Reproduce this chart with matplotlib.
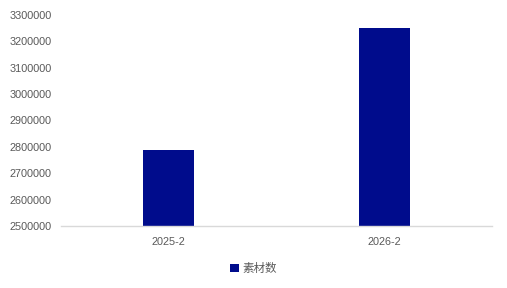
import matplotlib
matplotlib.use('Agg')
import matplotlib.pyplot as plt
from matplotlib.patches import Patch

# ── Data ──────────────────────────────────────────────────────────────────────
categories = ['2025-2', '2026-2']
material_counts = [2788000, 3250000]
series_name = '素材数'
y_ticks = [2500000, 2600000, 2700000, 2800000, 2900000,
           3000000, 3100000, 3200000, 3300000]

BAR_COLOR = '#000C8C'
TEXT_COLOR = '#595959'
AXIS_COLOR = '#D9D9D9'

plt.rcParams['font.family'] = ['Liberation Sans', 'Noto Sans CJK SC', 'DejaVu Sans']

fig = plt.figure(figsize=(5.07, 2.88), dpi=100)
ax = fig.add_axes([0.1203, 0.2153, 0.8501, 0.7327])

x = list(range(len(categories)))
ax.bar(x, material_counts, width=0.235, color=BAR_COLOR, zorder=2)

ax.set_xlim(-0.5, len(categories) - 0.5)
ax.set_ylim(y_ticks[0], y_ticks[-1])
ax.set_yticks(y_ticks)
ax.set_yticklabels([str(v) for v in y_ticks])
ax.set_xticks(x)
ax.set_xticklabels(categories)

for side in ['top', 'right', 'left']:
    ax.spines[side].set_visible(False)
ax.spines['bottom'].set_color(AXIS_COLOR)
ax.spines['bottom'].set_linewidth(1.0)

ax.tick_params(axis='both', length=0, colors=TEXT_COLOR, labelsize=7.8)
ax.tick_params(axis='y', pad=6.5)
ax.tick_params(axis='x', pad=8)

handles = [Patch(facecolor=BAR_COLOR, edgecolor='none', label=series_name)]
leg = fig.legend(handles=handles, loc='center', bbox_to_anchor=(0.5, 0.066),
                 frameon=False, handlelength=0.7, handleheight=0.7,
                 handletextpad=0.3,
                 prop={'family': ['Noto Sans CJK SC', 'DejaVu Sans'], 'size': 8.3})
for t in leg.get_texts():
    t.set_color(TEXT_COLOR)

fig.savefig('out.png', dpi=100)
